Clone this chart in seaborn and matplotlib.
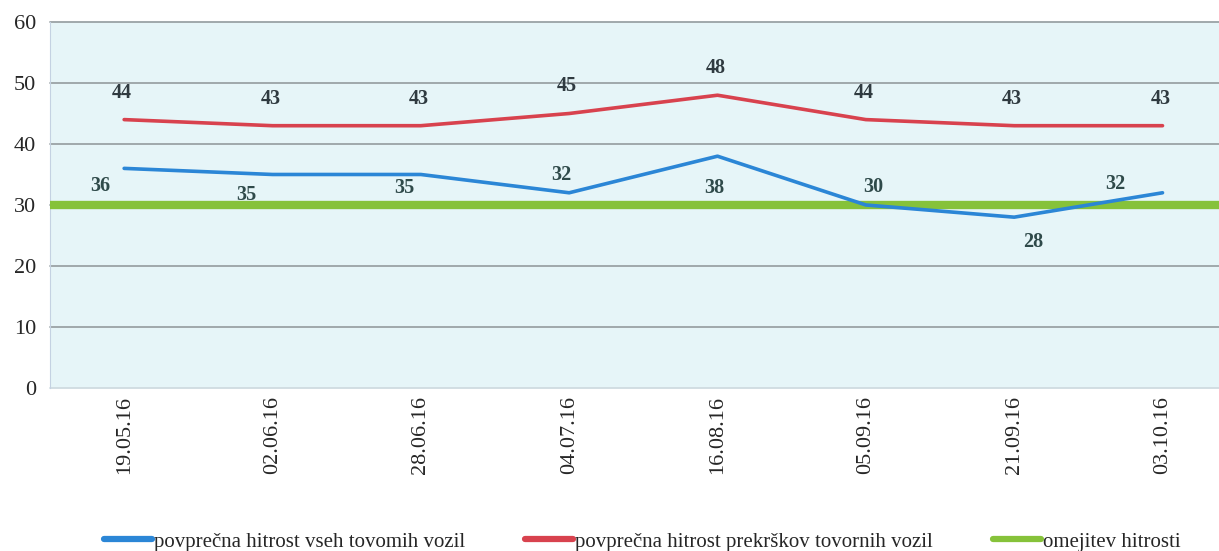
import pandas as pd
import matplotlib.pyplot as plt
import seaborn as sns
from matplotlib.lines import Line2D

# Data
dates = ["19.05.16", "02.06.16", "28.06.16", "04.07.16",
         "16.08.16", "05.09.16", "21.09.16", "03.10.16"]
avg_all = [36, 35, 35, 32, 38, 30, 28, 32]
avg_offences = [44, 43, 43, 45, 48, 44, 43, 43]
speed_limit = 30

name_all = "povprečna hitrost vseh tovomih vozil"
name_off = "povprečna hitrost prekrškov tovornih vozil"
name_lim = "omejitev hitrosti"

blue = "#2b86d6"
red = "#d8424e"
green = "#86c23a"

df = pd.DataFrame({
    "date": dates * 2,
    "speed": avg_all + avg_offences,
    "series": [name_all] * len(dates) + [name_off] * len(dates),
})
df["pos"] = list(range(len(dates))) * 2

sns.set_style("white")
plt.rcParams["font.family"] = ["Liberation Serif", "DejaVu Serif"]

fig = plt.figure(figsize=(12.19, 5.51), dpi=100)
ax = fig.add_axes([0.041, 0.296, 0.965, 0.664])
ax.set_facecolor("#e6f5f8")

ax.axhline(speed_limit, color=green, lw=6, zorder=3)
sns.lineplot(data=df, x="pos", y="speed", hue="series",
             palette={name_all: blue, name_off: red}, lw=2.6,
             legend=False, ax=ax, zorder=4)

# value labels (offsets in points, label placement only)
blue_offsets = [(-17, -13), (-19, -15), (-12, -10), (-6, 13),
                (-2, -23), (5, 13), (14, -18), (-34, 6)]
for i, v in enumerate(avg_all):
    ax.annotate(str(v), (i, v), xytext=blue_offsets[i], textcoords="offset points",
                ha="center", va="center", fontsize=14.5, fontweight="bold", color="#2f4a4a")
for i, v in enumerate(avg_offences):
    ax.annotate(str(v), (i, v), xytext=(-1.5, 19.5), textcoords="offset points",
                ha="center", va="center", fontsize=14.5, fontweight="bold", color="#2f3a40")

ax.set_ylim(0, 60)
ax.set_yticks(range(0, 61, 10))
ax.set_xlim(-0.5, 7.43)
ax.set_xticks(range(len(dates)))
ax.set_xticklabels(dates, rotation=90, fontsize=16)
ax.tick_params(axis="y", labelsize=16, length=0, pad=10)
ax.tick_params(axis="x", length=0, pad=6)
ax.grid(axis="y", color="#9aa3a6", lw=1.3)
for gl in ax.get_ygridlines():
    gl.set_clip_on(False)
ax.get_ygridlines()[0].set_color("#cfdbe0")
ax.set_xlabel("")
ax.set_ylabel("")
for s in ["top", "right", "bottom"]:
    ax.spines[s].set_visible(False)
ax.spines["left"].set_color("#c4d2e2")

handles = [Line2D([], [], color=c, lw=4.5) for c in (blue, red, green)]
fig.legend(handles, [name_all, name_off, name_lim], loc="lower center",
           bbox_to_anchor=(0.527, -0.035), ncol=3, frameon=False, fontsize=15,
           handlelength=2.3, handletextpad=0.1, columnspacing=2.9)

fig.savefig("out.png", dpi=100)
